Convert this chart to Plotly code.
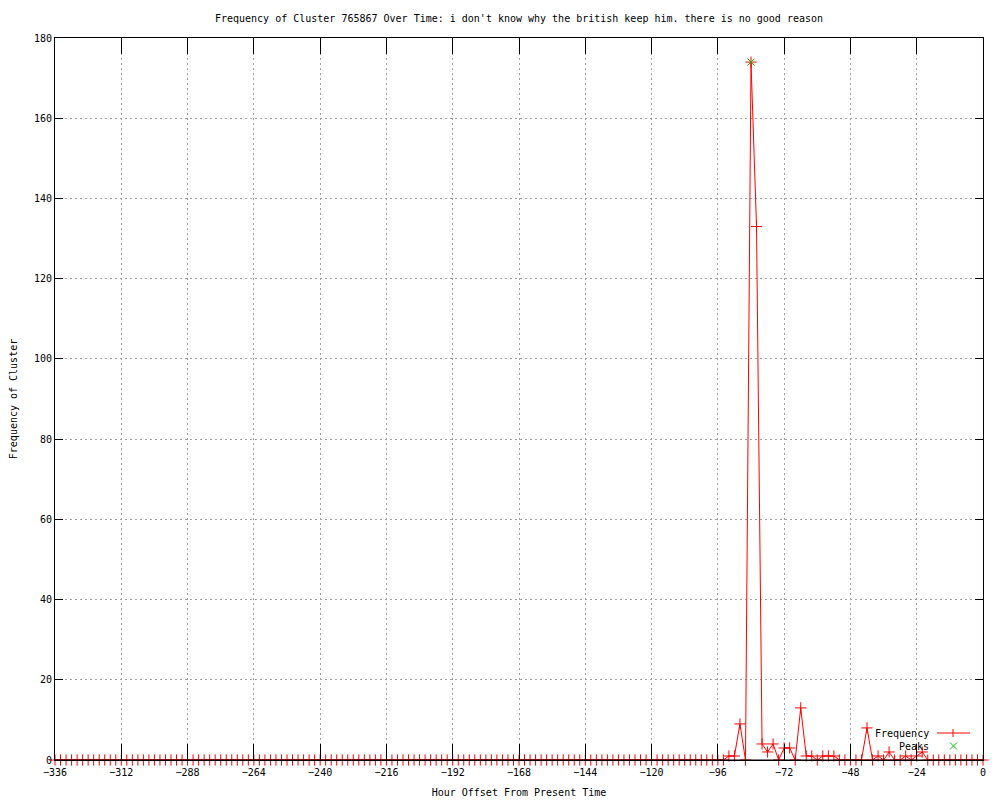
import plotly.graph_objects as go

hours = list(range(-336, 1, 2))
freq = [
    0, 0, 0, 0, 0, 0, 0, 0, 0, 0, 0, 0, 0, 0, 0, 0, 0, 0, 0, 0,
    0, 0, 0, 0, 0, 0, 0, 0, 0, 0, 0, 0, 0, 0, 0, 0, 0, 0, 0, 0,
    0, 0, 0, 0, 0, 0, 0, 0, 0, 0, 0, 0, 0, 0, 0, 0, 0, 0, 0, 0,
    0, 0, 0, 0, 0, 0, 0, 0, 0, 0, 0, 0, 0, 0, 0, 0, 0, 0, 0, 0,
    0, 0, 0, 0, 0, 0, 0, 0, 0, 0, 0, 0, 0, 0, 0, 0, 0, 0, 0, 0,
    0, 0, 0, 0, 0, 0, 0, 0, 0, 0, 0, 0, 0, 0, 0, 0, 0, 0, 0, 0,
    0,                                   # -96
    0, 1, 1, 9, 0, 174, 133, 4, 2, 4,    # -94 .. -76
    0, 3, 3, 0, 13, 1, 1, 0, 1, 1,       # -74 .. -56
    1, 0, 0, 0, 0, 0, 8, 0, 1, 0,        # -54 .. -36
    2, 0, 0, 1, 0, 1, 2, 0, 0, 0,        # -34 .. -16
    0, 0, 0, 0, 0, 0, 0, 0,              # -14 .. 0
]
peak_hours = [-84]
peak_values = [174]

x_ticks = list(range(-336, 1, 24))
y_ticks = list(range(0, 181, 20))

title_text = "Frequency of Cluster 765867 Over Time: i don't know why the british keep him. there is no good reason"
FONT = "DejaVu Sans Mono"

# page is rendered with an 8px body margin -> figure occupies page px 8..1000
OFF = 8
W, H = 1000 - OFF, 800 - OFF
L, T = 55 - OFF, 38 - OFF
PR, PB = 983 - OFF, 760 - OFF

fig = go.Figure()
fig.add_trace(go.Scatter(
    x=hours, y=freq, mode="lines+markers", name="Frequency",
    line=dict(color="#ff0000", width=1),
    marker=dict(symbol="cross-thin", size=8, line=dict(color="#ff0000", width=1)),
    cliponaxis=False, showlegend=False,
))
fig.add_trace(go.Scatter(
    x=peak_hours, y=peak_values, mode="markers", name="Peaks",
    marker=dict(symbol="x-thin", size=7, line=dict(color="#00c000", width=1)),
    cliponaxis=False, showlegend=False,
))

axis_common = dict(
    showline=True, linecolor="black", linewidth=1, mirror="ticks",
    ticks="inside", tickcolor="black", tickwidth=1,
    showgrid=True, gridcolor="#a0a0a0", griddash="2px,3px", gridwidth=1,
    zeroline=False, tickfont=dict(family=FONT, size=10, color="black"),
    automargin=False,
)

fig.update_xaxes(
    range=[-336, 0], tickmode="array", tickvals=x_ticks, ticklen=16,
    ticklabelstandoff=3,
    title=dict(text="Hour Offset From Present Time", font=dict(family=FONT, size=10, color="black"), standoff=11),
    **axis_common,
)
fig.update_yaxes(
    range=[0, 180], tickmode="array", tickvals=y_ticks, ticklen=8,
    title=dict(text="Frequency of Cluster", font=dict(family=FONT, size=10, color="black"), standoff=21),
    **axis_common,
)

pw, ph = float(PR - L), float(PB - T)
def px(x):
    return (x - 55) / pw
def py(y):
    return (760 - y) / ph

shapes = [
    # bottom axis line drawn over the series (as gnuplot does)
    dict(type="line", xref="paper", yref="paper", x0=0, x1=1, y0=0, y1=0,
         line=dict(color="black", width=1), layer="above"),
    # legend samples
    dict(type="line", xref="paper", yref="paper", x0=px(937), x1=px(970), y0=py(733), y1=py(733),
         line=dict(color="#ff0000", width=1)),
    dict(type="line", xref="paper", yref="paper", x0=px(953), x1=px(953), y0=py(729), y1=py(737),
         line=dict(color="#ff0000", width=1)),
    dict(type="line", xref="paper", yref="paper", x0=px(950), x1=px(957), y0=py(742.5), y1=py(749.5),
         line=dict(color="#00c000", width=1)),
    dict(type="line", xref="paper", yref="paper", x0=px(950), x1=px(957), y0=py(749.5), y1=py(742.5),
         line=dict(color="#00c000", width=1)),
]
annotations = [
    dict(text="Frequency", xref="paper", yref="paper", x=px(931), y=py(733), xanchor="right", yanchor="middle",
         showarrow=False, font=dict(family=FONT, size=10, color="black")),
    dict(text="Peaks", xref="paper", yref="paper", x=px(931), y=py(746), xanchor="right", yanchor="middle",
         showarrow=False, font=dict(family=FONT, size=10, color="black")),
]

fig.update_layout(
    width=W, height=H,
    margin=dict(l=L, r=W - PR, t=T, b=H - PB),
    paper_bgcolor="white", plot_bgcolor="white",
    title=dict(text=title_text, x=0.5, xref="paper", y=1 - (18 - OFF) / H, yanchor="middle",
               font=dict(family=FONT, size=10, color="black")),
    shapes=shapes, annotations=annotations,
    showlegend=False,
)

fig.write_html("out.html")
